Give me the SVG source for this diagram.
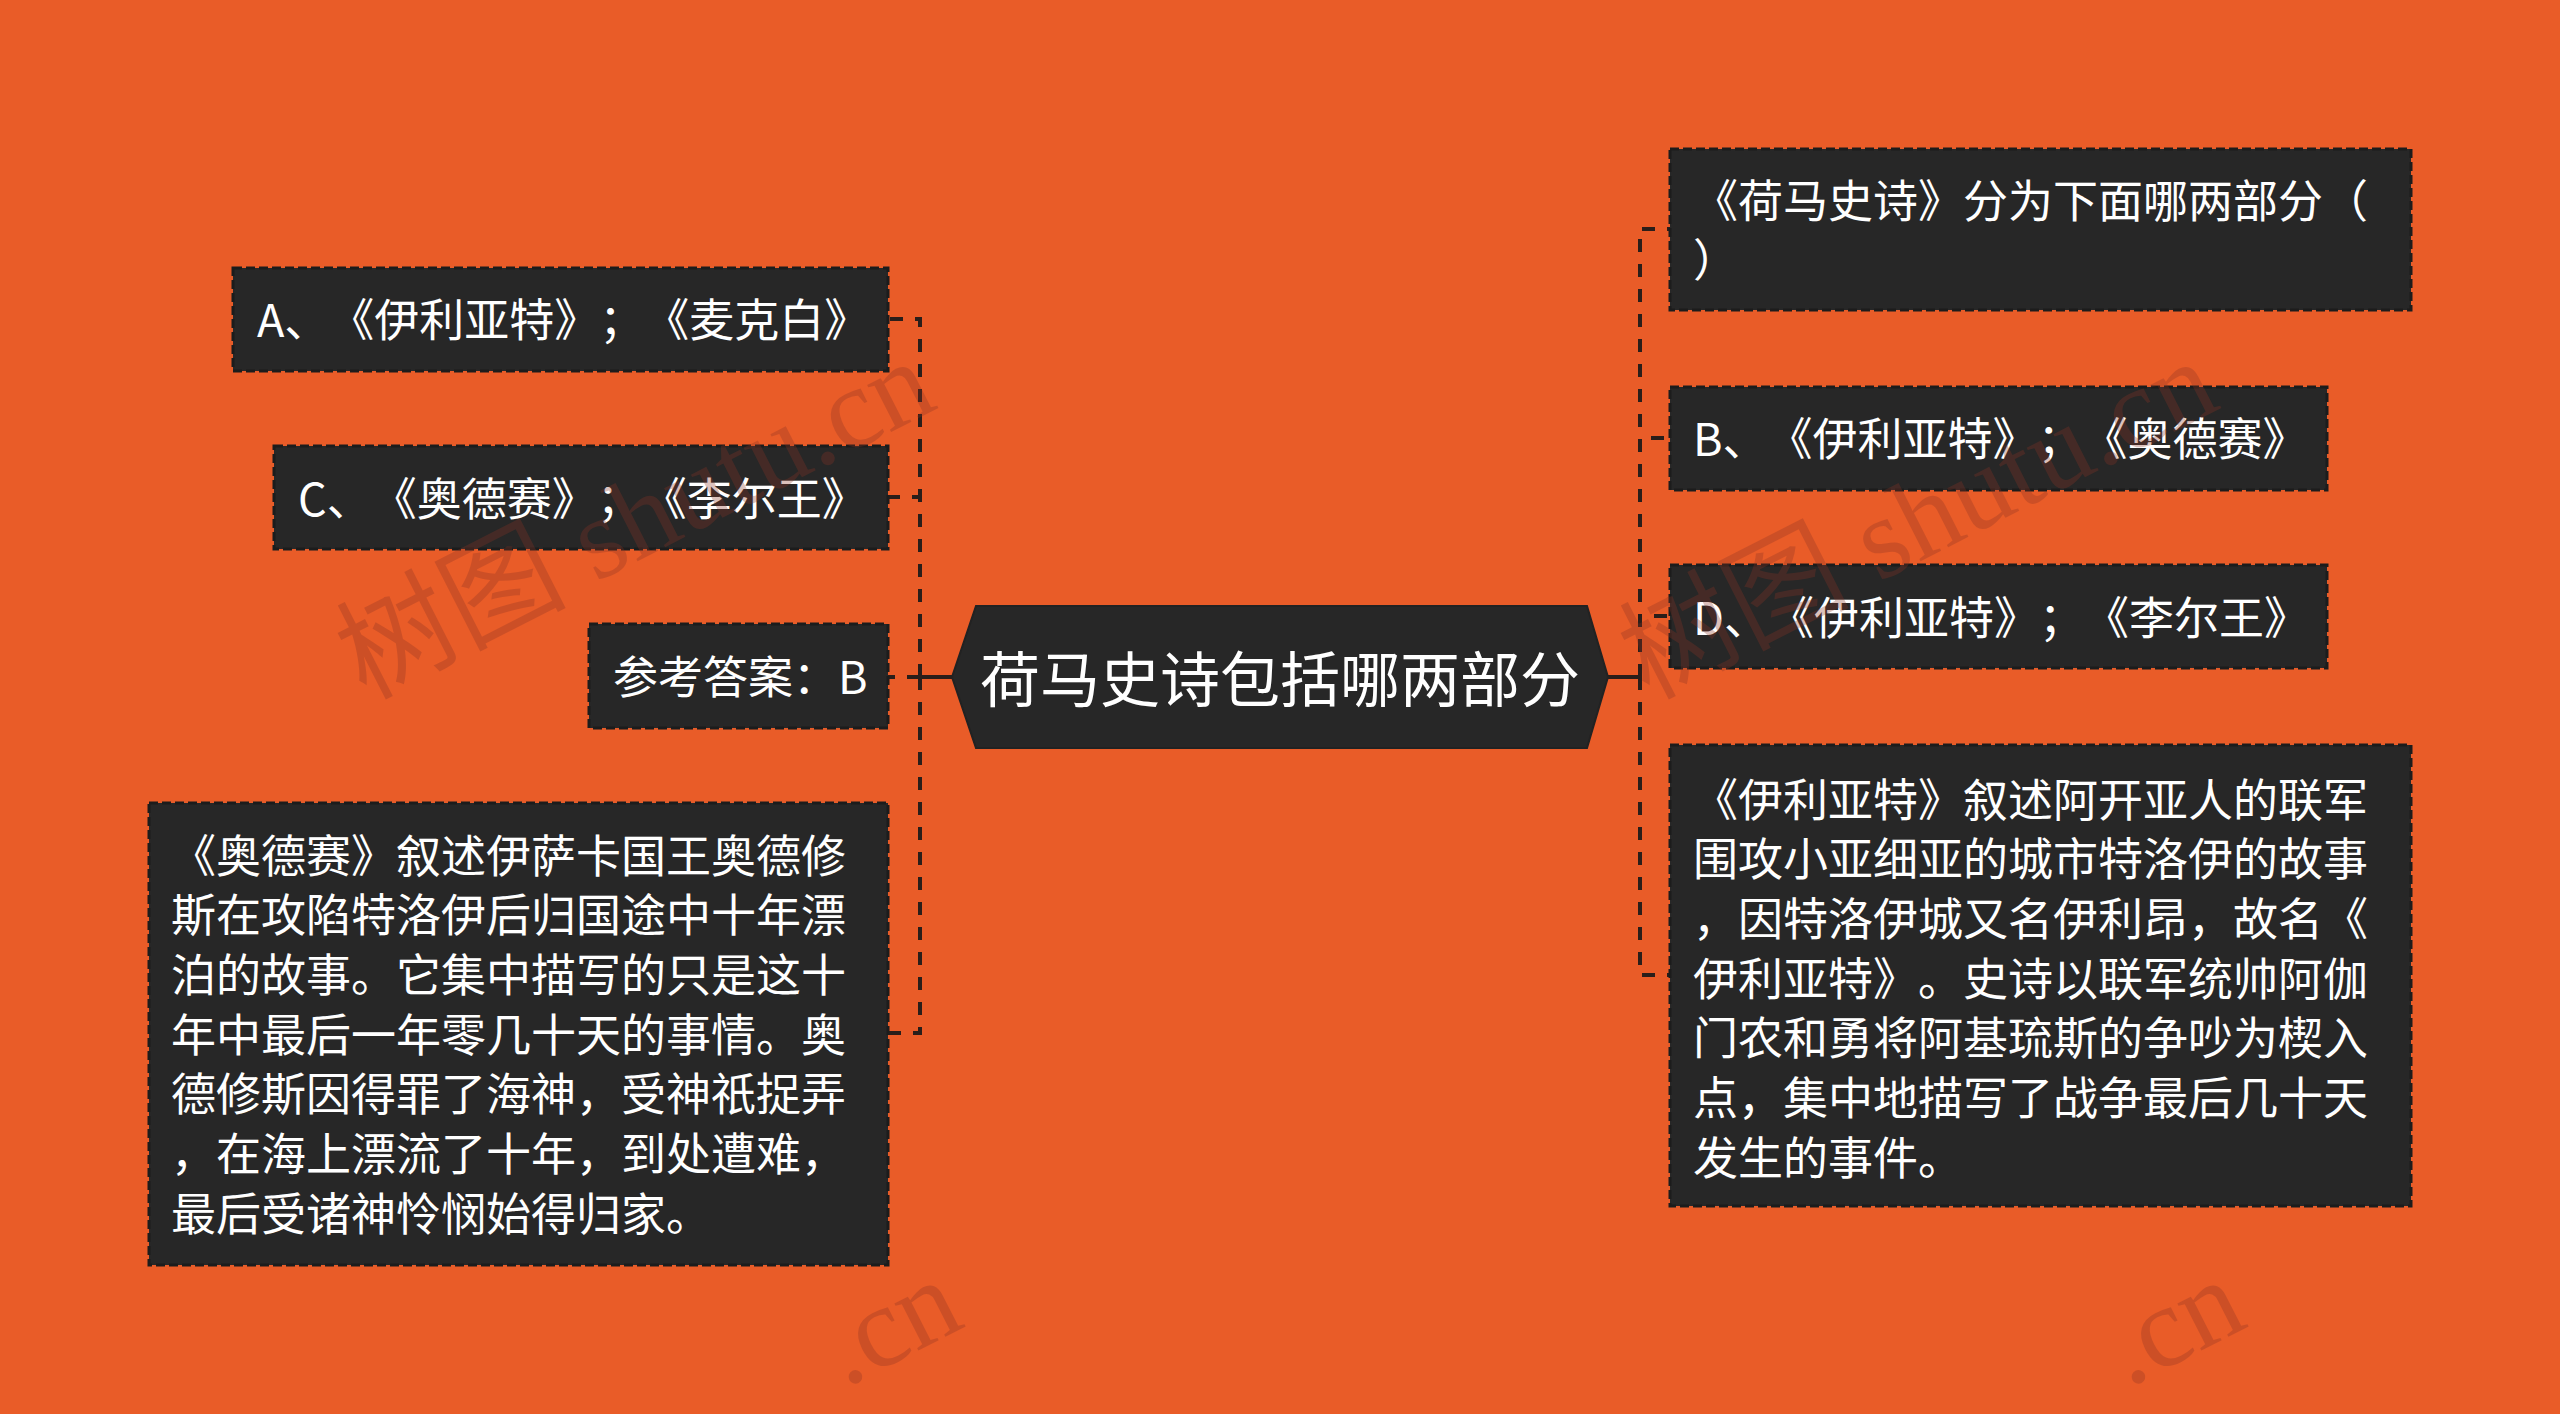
<svg xmlns="http://www.w3.org/2000/svg" width="2560" height="1414" viewBox="0 0 2560 1414">
<defs>
<style>
.bg{fill:#E95C28}
.box{fill:#272727;stroke:#1c1c1c;stroke-width:3;stroke-dasharray:9 4}
.hex{fill:#272727;stroke:#222;stroke-width:2}
text{text-spacing-trim:space-all}
.t{font-family:"Noto Sans CJK SC","Noto Sans",sans-serif;font-size:45px;fill:#ffffff;dominant-baseline:central}
.tc{font-family:"Noto Sans CJK SC","Noto Sans",sans-serif;font-size:60px;fill:#ffffff;dominant-baseline:central;text-anchor:middle}
.cd{fill:none;stroke:#2a1e1a;stroke-width:4;stroke-dasharray:13 12}
.cs{fill:none;stroke:#2a1e1a;stroke-width:4}
.wm{font-family:"Liberation Serif","Noto Sans CJK SC",serif;font-size:115px;fill:#8a3424;opacity:0.3}
</style>
</defs>
<rect class="bg" x="0" y="0" width="2560" height="1414"/>

<g id="connectors">
<path class="cs" d="M952,677 H920"/>
<path class="cd" d="M920,677 V319 H888"/>
<path class="cd" d="M920,677 V497 H888"/>
<path class="cd" d="M920,677 H888"/>
<path class="cd" d="M920,677 V1033 H888"/>
<path class="cs" d="M1608,677 H1640"/>
<path class="cd" d="M1640,677 V229 H1670"/>
<path class="cd" d="M1640,677 V438 H1670"/>
<path class="cd" d="M1640,677 V616 H1670"/>
<path class="cd" d="M1640,677 V975 H1670"/>
</g>

<g id="root">
<polygon class="hex" points="952,677 976,606 1587,606 1608,677 1587,748 976,748"/>
<text class="tc" x="1280" y="675">荷马史诗包括哪两部分</text>
</g>

<g id="node-a">
<rect class="box" x="233" y="268" width="655" height="103"/>
<text class="t" x="257" y="317">A、《伊利亚特》；《麦克白》</text>
</g>

<g id="node-c">
<rect class="box" x="274" y="446" width="614" height="103"/>
<text class="t" x="298" y="496">C、《奥德赛》；《李尔王》</text>
</g>

<g id="node-answer">
<rect class="box" x="589" y="624" width="299" height="104"/>
<text class="t" x="613" y="674">参考答案：B</text>
</g>

<g id="node-odyssey">
<rect class="box" x="149" y="803" width="739" height="462"/>
<text class="t" x="171" y="853">《奥德赛》叙述伊萨卡国王奥德修</text>
<text class="t" x="171" y="912.7">斯在攻陷特洛伊后归国途中十年漂</text>
<text class="t" x="171" y="972.4">泊的故事。它集中描写的只是这十</text>
<text class="t" x="171" y="1032.1">年中最后一年零几十天的事情。奥</text>
<text class="t" x="171" y="1091.8">德修斯因得罪了海神，受神祇捉弄</text>
<text class="t" x="171" y="1151.5">，在海上漂流了十年，到处遭难，</text>
<text class="t" x="171" y="1211.2">最后受诸神怜悯始得归家。</text>
</g>

<g id="node-question">
<rect class="box" x="1670" y="149" width="741" height="161"/>
<text class="t" x="1693" y="198">《荷马史诗》分为下面哪两部分（</text>
<text class="t" x="1693" y="257">）</text>
</g>

<g id="node-b">
<rect class="box" x="1670" y="387" width="657" height="103"/>
<text class="t" x="1693" y="436">B、《伊利亚特》；《奥德赛》</text>
</g>

<g id="node-d">
<rect class="box" x="1670" y="565" width="657" height="103"/>
<text class="t" x="1693" y="615">D、《伊利亚特》；《李尔王》</text>
</g>

<g id="node-iliad">
<rect class="box" x="1670" y="745" width="741" height="461"/>
<text class="t" x="1693" y="797">《伊利亚特》叙述阿开亚人的联军</text>
<text class="t" x="1693" y="856.7">围攻小亚细亚的城市特洛伊的故事</text>
<text class="t" x="1693" y="916.4">，因特洛伊城又名伊利昂，故名《</text>
<text class="t" x="1693" y="976.1">伊利亚特》。史诗以联军统帅阿伽</text>
<text class="t" x="1693" y="1035.8">门农和勇将阿基琉斯的争吵为楔入</text>
<text class="t" x="1693" y="1095.5">点，集中地描写了战争最后几十天</text>
<text class="t" x="1693" y="1155.2">发生的事件。</text>
</g>

<g id="watermark">
<text class="wm" x="365" y="700" transform="rotate(-27 365 700)">树图 shutu.cn</text>
<text class="wm" x="1648" y="700" transform="rotate(-27 1648 700)">树图 shutu.cn</text>
<text class="wm" x="845" y="1388" transform="rotate(-27 845 1388)">.cn</text>
<text class="wm" x="2128" y="1388" transform="rotate(-27 2128 1388)">.cn</text>
</g>
</svg>
